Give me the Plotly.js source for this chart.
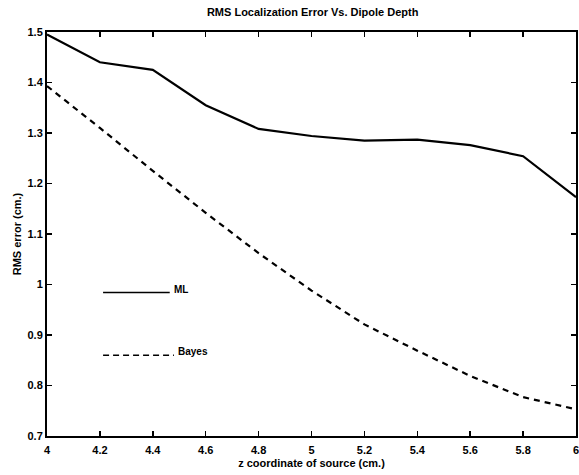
<!DOCTYPE html>
<html>
<head>
<meta charset="utf-8">
<script src="https://cdn.plot.ly/plotly-3.0.1.min.js"></script>
<style>html,body{margin:0;padding:0;background:#fff;}#chart{width:579px;height:475px;}</style>
</head>
<body>
<div id="chart"></div>
<script>
const depth = [4.0, 4.2, 4.4, 4.6, 4.8, 5.0, 5.2, 5.4, 5.6, 5.8, 6.0];
const mlError = [1.495, 1.44, 1.425, 1.355, 1.308, 1.294, 1.285, 1.287, 1.276, 1.254, 1.173];
const bayesError = [1.393, 1.31, 1.225, 1.142, 1.062, 0.988, 0.921, 0.869, 0.819, 0.777, 0.753];
const seriesNames = ["ML", "Bayes"];
const xTicks = [4, 4.2, 4.4, 4.6, 4.8, 5, 5.2, 5.4, 5.6, 5.8, 6];
const yTicks = [0.7, 0.8, 0.9, 1, 1.1, 1.2, 1.3, 1.4, 1.5];

const fontFam = "Liberation Sans, Arial, Helvetica, sans-serif";
const boldFont = {family: fontFam, size: 11, color: "#000", weight: "bold"};

const traces = [
  {x: depth, y: mlError, name: seriesNames[0], mode: "lines", type: "scatter",
   line: {color: "#000", width: 2.2}},
  {x: depth, y: bayesError, name: seriesNames[1], mode: "lines", type: "scatter",
   line: {color: "#000", width: 2.2, dash: "6px,5px"}}
];

const axisCommon = {
  showgrid: false, zeroline: false, showline: true, linecolor: "#000", linewidth: 2,
  mirror: "ticks", ticks: "inside", ticklen: 5, tickwidth: 1.5, tickcolor: "#000",
  tickfont: boldFont, ticklabeloverflow: "allow"
};

const layout = {
  width: 579, height: 475,
  margin: {l: 47, r: 3, t: 32, b: 39},
  paper_bgcolor: "#fff", plot_bgcolor: "#fff",
  showlegend: false,
  title: {text: "RMS Localization Error Vs. Dipole Depth", font: boldFont, x: 0.54, xanchor: "center", y: 0.975, yanchor: "middle"},
  xaxis: Object.assign({}, axisCommon, {
    range: [4, 6], tickvals: xTicks, ticktext: xTicks.map(String), ticklabelstandoff: 3,
    title: {text: "z coordinate of source (cm.)", font: boldFont, standoff: 4}
  }),
  yaxis: Object.assign({}, axisCommon, {
    range: [0.7, 1.5], tickvals: yTicks, ticktext: yTicks.map(String),
    title: {text: "RMS error (cm.)", font: boldFont, standoff: 4}
  }),
  shapes: [
    {type: "line", xref: "paper", yref: "paper", x0: 0.106, x1: 0.232, y0: 0.355, y1: 0.355,
     line: {color: "#000", width: 1.5}},
    {type: "line", xref: "paper", yref: "paper", x0: 0.106, x1: 0.24, y0: 0.2, y1: 0.2,
     line: {color: "#000", width: 1.5, dash: "6px,4px"}}
  ],
  annotations: [
    {xref: "paper", yref: "paper", x: 0.236, y: 0.362, text: seriesNames[0], showarrow: false,
     xanchor: "left", yanchor: "middle", font: Object.assign({}, boldFont, {size: 10})},
    {xref: "paper", yref: "paper", x: 0.243, y: 0.21, text: seriesNames[1], showarrow: false,
     xanchor: "left", yanchor: "middle", font: Object.assign({}, boldFont, {size: 10})}
  ]
};

Plotly.newPlot("chart", traces, layout, {displayModeBar: false, staticPlot: true});
</script>
</body>
</html>
